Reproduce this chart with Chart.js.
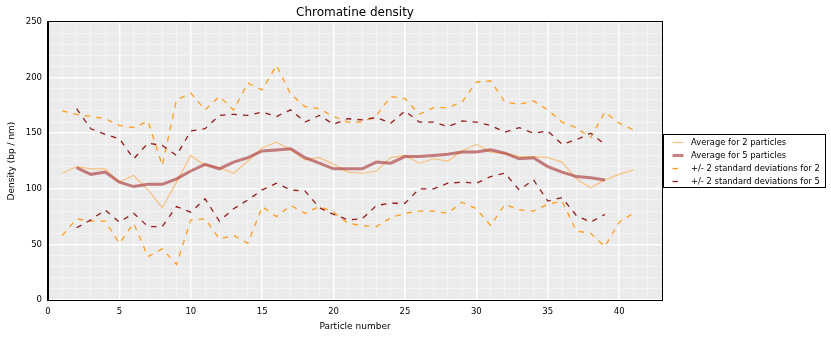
<!DOCTYPE html>
<html><head><meta charset="utf-8">
<script src="https://cdn.jsdelivr.net/npm/chart.js@4.4.1/dist/chart.umd.min.js"></script>
<style>html,body{margin:0;padding:0;background:#fff;} canvas{display:block;}</style>
</head><body>
<canvas id="c" width="831" height="337"></canvas>
<script>
const particleNumbers = [1,2,3,4,5,6,7,8,9,10,11,12,13,14,15,16,17,18,19,20,21,22,23,24,25,26,27,28,29,30,31,32,33,34,35,36,37,38,39,40,41];
const avg2 = [114,120,118,118,106,112,99,83,106,130,121,119,114,125,137,142,135,126,128,122,115,114,116,128,130,123,127,125,134,140,133,132,129,129,128,124,109,101,108,113,117];
const avg5 = [null,119,113,115,106,102,104,104,109,116,122,118,124,128,134,135,136,128,123,118,118,118,124,123,129,129,130,131,133,133,135,132,127,128,120,115,111,110,108,null,null];
const std2Upper = [170,167,165,163,157,155,161,121,180,186,171,183,171,195,189,211,185,174,172,165,160,160,166,183,181,167,173,173,178,196,197,178,176,179,171,160,155,146,169,159,153];
const std2Lower = [58,73,71,71,51,69,39,46,32,72,73,55,58,51,84,75,85,78,84,79,69,67,66,74,78,80,80,78,88,82,67,86,81,80,86,89,62,60,48,70,78];
const std5Upper = [null,172,154,149,145,127,141,139,130,152,154,166,167,166,169,165,171,160,166,158,163,162,164,159,170,160,160,156,161,160,157,151,155,150,152,140,144,150,140,null,null];
const std5Lower = [null,65,72,81,70,78,66,66,84,79,91,71,82,90,99,105,99,98,83,77,72,73,85,87,87,100,100,105,106,105,111,114,99,108,89,92,76,70,77,null,null];
const xTickLabels = [0,5,10,15,20,25,30,35,40];
const yTickLabels = [0,50,100,150,200,250];
const seriesNames = ['Average for 2 particles','Average for 5 particles','+/- 2 standard deviations for 2','+/- 2 standard deviations for 5'];

const C_AVG2 = '#f7c17f', C_AVG5 = 'rgba(165,45,45,0.6)', C_STD2 = '#ff9c1c', C_STD5 = '#981b1b';
const DASH = [5.5,6];
const FONT = 'DejaVu Sans';

function pts(arr){ const out=[]; arr.forEach((v,i)=>{ if(v!==null) out.push({x:particleNumbers[i], y:v}); }); return out; }

const styles = [
  {color:C_AVG2, width:1.2, dash:[]},
  {color:C_AVG5, width:3, dash:[]},
  {color:C_STD2, width:1.3, dash:DASH},
  {color:C_STD5, width:1.3, dash:DASH}
];
function ds(label, arr, st, order){
  return {label, data:pts(arr), borderColor:st.color, borderWidth:st.width, borderDash:st.dash,
    pointRadius:0, fill:false, tension:0, order};
}

const bgPlugin = {
  id:'bg',
  beforeDraw(chart){
    const {ctx, chartArea:a} = chart;
    ctx.save(); ctx.fillStyle='#ebebeb'; ctx.fillRect(a.left,a.top,a.right-a.left,a.bottom-a.top); ctx.restore();
  },
  afterDraw(chart){
    const {ctx, chartArea:a} = chart;
    ctx.save();
    ctx.strokeStyle='#000'; ctx.lineWidth=1;
    ctx.strokeRect(Math.round(a.left)-0.5, Math.round(a.top)-0.5, Math.round(a.right-a.left)+1, Math.round(a.bottom-a.top)+1);
    // title
    ctx.fillStyle='#000'; ctx.font='12px "'+FONT+'"'; ctx.textAlign='center'; ctx.textBaseline='middle';
    ctx.fillText('Chromatine density', (a.left+a.right)/2, 13);
    // legend
    const lx=663.5, ly=134.5, lw=162, lh=53;
    ctx.fillStyle='#fff'; ctx.fillRect(lx,ly,lw,lh);
    ctx.strokeRect(lx,ly,lw,lh);
    ctx.font='8.4px "'+FONT+'"'; ctx.textAlign='left'; ctx.fillStyle='#000';
    seriesNames.forEach((name,i)=>{
      const y = 142.5 + i*13;
      const st = styles[i];
      ctx.beginPath(); ctx.setLineDash(st.dash); ctx.strokeStyle=st.color; ctx.lineWidth=st.width;
      ctx.moveTo(672.5,y); ctx.lineTo(683.5,y); ctx.stroke();
      ctx.setLineDash([]);
      ctx.fillText(name, 691, y);
    });
    ctx.restore();
  }
};

new Chart(document.getElementById('c'), {
  type:'line',
  data:{ datasets:[
    ds(seriesNames[0], avg2, styles[0], 6),
    ds(seriesNames[1], avg5, styles[1], 5),
    ds(seriesNames[2], std2Upper, styles[2], 4),
    ds(seriesNames[2]+' (lower)', std2Lower, styles[2], 3),
    ds(seriesNames[3], std5Upper, styles[3], 2),
    ds(seriesNames[3]+' (lower)', std5Lower, styles[3], 1)
  ]},
  options:{
    responsive:false, animation:false, devicePixelRatio:1,
    layout:{padding:{top:22, right:169, left:0, bottom:0}},
    plugins:{legend:{display:false}, tooltip:{enabled:false}, title:{display:false}},
    scales:{
      x:{ type:'linear', min:0, max:43,
        afterBuildTicks:s=>{ s.ticks = Array.from({length:44},(_,i)=>({value:i})); },
        afterFit:s=>{ s.height = 37; },
        ticks:{ autoSkip:false, maxRotation:0, padding:7, color:'#000', font:{family:FONT, size:8.5},
          callback:v=> xTickLabels.includes(v) ? String(v) : '' },
        grid:{ drawTicks:false, color:c=> (c.tick && c.tick.value%5===0) ? '#ffffff' : '#f4f4f4',
          lineWidth:c=> (c.tick && c.tick.value%5===0) ? 1.5 : 1 },
        border:{display:true, color:'#000', width:1},
        title:{display:true, text:'Particle number', color:'#000', font:{family:FONT, size:9}, padding:{top:0,bottom:5}}
      },
      y:{ type:'linear', min:0, max:250,
        afterBuildTicks:s=>{ s.ticks = Array.from({length:26},(_,i)=>({value:i*10})); },
        afterFit:s=>{ s.width = 48; },
        ticks:{ autoSkip:false, padding:6, color:'#000', font:{family:FONT, size:8.5},
          callback:v=> yTickLabels.includes(v) ? String(v) : '' },
        grid:{ drawTicks:false, color:c=> (c.tick && c.tick.value%50===0) ? '#ffffff' : '#f4f4f4',
          lineWidth:c=> (c.tick && c.tick.value%50===0) ? 1.5 : 1 },
        border:{display:true, color:'#000', width:1},
        title:{display:true, text:'Density (bp / nm)', color:'#000', font:{family:FONT, size:9}, padding:{top:6,bottom:0}}
      }
    }
  },
  plugins:[bgPlugin]
});
</script>
</body></html>
